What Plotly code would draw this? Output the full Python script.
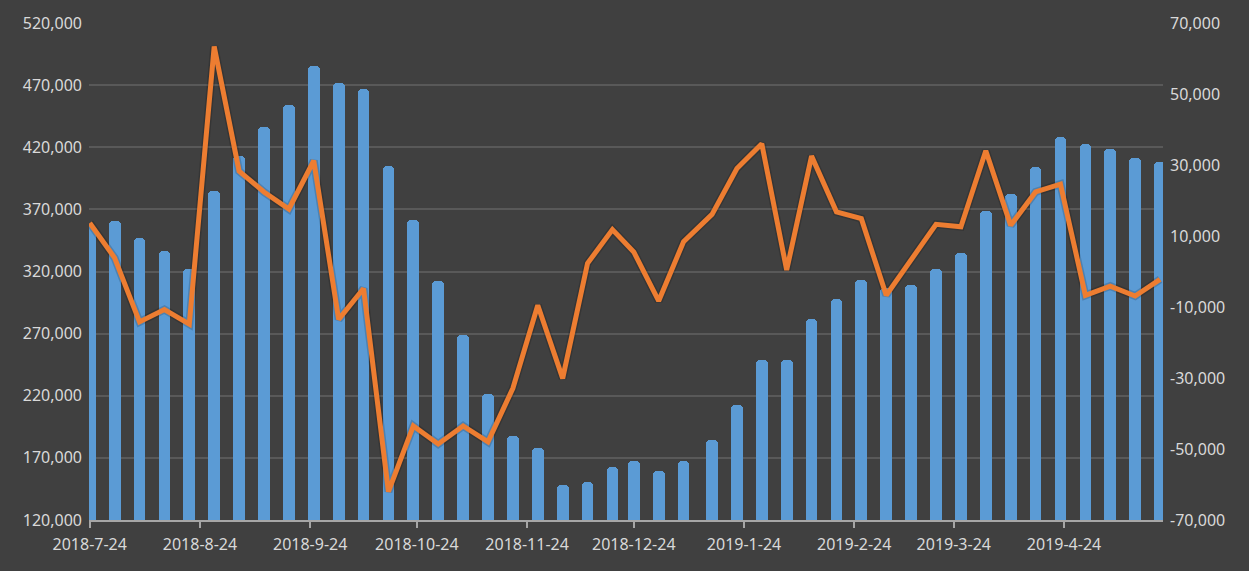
import plotly.graph_objects as go

dates = ["2018-07-24", "2018-07-31", "2018-08-07", "2018-08-14", "2018-08-21", "2018-08-28",
         "2018-09-04", "2018-09-11", "2018-09-18", "2018-09-25", "2018-10-02", "2018-10-09",
         "2018-10-16", "2018-10-23", "2018-10-30", "2018-11-06", "2018-11-13", "2018-11-20",
         "2018-11-27", "2018-12-04", "2018-12-11", "2018-12-18", "2018-12-24", "2018-12-31",
         "2019-01-07", "2019-01-15", "2019-01-22", "2019-01-29", "2019-02-05", "2019-02-12",
         "2019-02-19", "2019-02-26", "2019-03-05", "2019-03-12", "2019-03-19", "2019-03-26",
         "2019-04-02", "2019-04-09", "2019-04-16", "2019-04-23", "2019-04-30", "2019-05-07",
         "2019-05-14", "2019-05-21"]

bar_values = [357000, 361000, 347000, 336500, 322000, 385000, 413000, 436500, 454000, 485500,
              472000, 467000, 405000, 361500, 312500, 269000, 221500, 187500, 178000, 148500,
              150500, 162500, 167500, 159500, 167500, 184000, 212500, 249000, 249000, 281500,
              298000, 313000, 306500, 309000, 322000, 335000, 368500, 382000, 404500, 428500,
              422500, 418500, 411500, 408500]

line_values = [13700, 3850, -14200, -10700, -14800, 63400, 28300, 22400, 17600, 31200,
               -13500, -4800, -62000, -43500, -48600, -43500, -48000, -32900, -9500, -30100,
               2300, 11800, 5500, -8300, 8400, 16100, 29000, 36000, 400, 32500,
               16800, 14900, -6700, 3400, 13300, 12600, 34000, 13000, 22400, 24600,
               -6700, -4100, -6900, -2200]

x_tick_vals = ["2018-07-24", "2018-08-24", "2018-09-24", "2018-10-24", "2018-11-24",
               "2018-12-24", "2019-01-24", "2019-02-24", "2019-03-24", "2019-04-24"]
x_tick_text = ["2018-7-24", "2018-8-24", "2018-9-24", "2018-10-24", "2018-11-24",
               "2018-12-24", "2019-1-24", "2019-2-24", "2019-3-24", "2019-4-24"]

left_tick_vals = [120000, 170000, 220000, 270000, 320000, 370000, 420000, 470000, 520000]
left_tick_text = ["120,000", "170,000", "220,000", "270,000", "320,000", "370,000",
                  "420,000", "470,000", "520,000"]
right_tick_vals = [-70000, -50000, -30000, -10000, 10000, 30000, 50000, 70000]
right_tick_text = ["-70,000", "-50,000", "-30,000", "-10,000", "10,000", "30,000",
                   "50,000", "70,000"]

BG = "#404040"
TXT = "#D9D9D9"
FONT = "Noto Sans"
DAY_MS = 86400000

fig = go.Figure()
fig.add_trace(go.Bar(
    x=dates, y=bar_values, yaxis="y",
    width=3.3 * DAY_MS,
    marker=dict(color="#5B9BD5", line=dict(width=0), cornerradius=4),
    showlegend=False, hoverinfo="skip",
))
fig.add_trace(go.Scatter(
    x=dates, y=line_values, yaxis="y2", mode="lines",
    line=dict(color="rgba(0,0,0,0.16)", width=8),
    showlegend=False, hoverinfo="skip",
))
fig.add_trace(go.Scatter(
    x=dates, y=line_values, yaxis="y2", mode="lines",
    line=dict(color="#ED7D31", width=5),
    showlegend=False, hoverinfo="skip",
))

fig.update_layout(
    width=1249, height=571,
    paper_bgcolor=BG, plot_bgcolor=BG,
    margin=dict(l=89, r=86, t=23, b=51),
    font=dict(family=FONT, size=16, color=TXT),
    bargap=0,
    xaxis=dict(
        type="date",
        range=["2018-07-23 19:00", "2019-05-21 20:00"],
        tickvals=x_tick_vals, ticktext=x_tick_text,
        showgrid=False, zeroline=False,
        showline=True, linecolor="#A6A6A6", linewidth=2,
        ticks="outside", ticklen=6, tickwidth=2, tickcolor="#A6A6A6",
        ticklabelstandoff=3,
        tickfont=dict(family=FONT, size=16, color=TXT),
    ),
    yaxis=dict(
        range=[120000, 520000],
        tickvals=left_tick_vals, ticktext=left_tick_text,
        showgrid=True, gridcolor="#595959", gridwidth=2,
        zeroline=False, showline=False,
        ticks="", ticklabelstandoff=6,
        tickfont=dict(family=FONT, size=16, color=TXT),
    ),
    yaxis2=dict(
        range=[-70000, 70000], overlaying="y", side="right",
        tickvals=right_tick_vals, ticktext=right_tick_text,
        showgrid=False, zeroline=False, showline=False,
        ticks="", ticklabelstandoff=6,
        tickfont=dict(family=FONT, size=16, color=TXT),
    ),
)

fig.write_html(
    "out.html",
    config={"displayModeBar": False},
    post_script="document.body.style.margin='0';document.body.style.overflow='hidden';",
)
